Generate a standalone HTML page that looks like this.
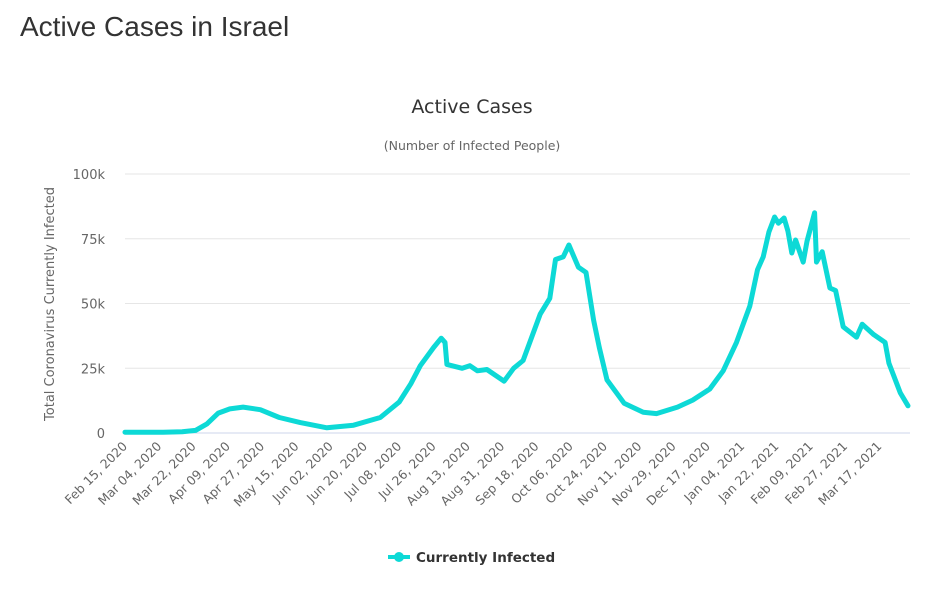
<!DOCTYPE html>
<html><head><meta charset="utf-8">
<style>
body{margin:0;background:#fff;font-family:"Liberation Sans",sans-serif;}
#wrap{position:relative;width:940px;height:612px;overflow:hidden;}
h1{position:absolute;left:20px;top:11px;margin:0;font-weight:normal;font-size:28px;color:#333;}
svg{position:absolute;left:0;top:0;}
</style></head><body>
<div id="wrap">
<h1>Active Cases in Israel</h1>
<svg id="chart" width="940" height="612" font-family="DejaVu Sans, sans-serif">
<text x="472" y="113" text-anchor="middle" font-size="19" fill="#333">Active Cases</text>
<text x="472" y="150" text-anchor="middle" font-size="12.5" fill="#666">(Number of Infected People)</text>
<text transform="translate(54,304) rotate(-90)" text-anchor="middle" font-size="13" fill="#666">Total Coronavirus Currently Infected</text>
<g id="grid"></g><g id="xlabels"></g><g id="series"></g>
<g>
<line x1="388" y1="557" x2="410" y2="557" stroke="#0dd9d6" stroke-width="4"/>
<circle cx="399" cy="557" r="5" fill="#0dd9d6"/>
<text x="416" y="562" font-size="13.5" font-weight="bold" fill="#333">Currently Infected</text>
</g>
</svg>
</div>
<script>
const days=[0,20,30,37,43,49,55,62,71,81,92,106,120,134,144,150,155,162,166,168,169,177,181,185,190,199,204,209,218,223,226,230,233,238,242,246,249,253,262,272,279,290,298,307,314,321,328,332,335,338,341,343,346,348,350,352,356,358,362,363,366,370,373,377,384,387,393,399,401,407,411];
const values=[300,300,500,1000,3500,7700,9300,10000,9000,6000,4000,2000,3000,6000,12000,19000,26000,33000,36600,35000,26500,25000,26000,24000,24500,20000,25000,28000,46000,52000,67000,68000,72600,64000,62000,43600,33000,20500,11500,8000,7500,10000,12700,17000,24000,35000,49000,63000,68000,77600,83400,81000,83000,78000,69500,74500,66000,74000,85000,66000,70000,56000,55000,41000,37000,42000,38000,35000,27000,15500,10500];
const yTicks=[0,25000,50000,75000,100000];
const yTickLabels=["0","25k","50k","75k","100k"];
const xTickDays=[0,18,36,54,72,90,108,126,144,162,180,198,216,234,252,270,288,306,324,342,360,378,396];
const xTickLabels=["Feb 15, 2020","Mar 04, 2020","Mar 22, 2020","Apr 09, 2020","Apr 27, 2020","May 15, 2020","Jun 02, 2020","Jun 20, 2020","Jul 08, 2020","Jul 26, 2020","Aug 13, 2020","Aug 31, 2020","Sep 18, 2020","Oct 06, 2020","Oct 24, 2020","Nov 11, 2020","Nov 29, 2020","Dec 17, 2020","Jan 04, 2021","Jan 22, 2021","Feb 09, 2021","Feb 27, 2021","Mar 17, 2021"];
const NS="http://www.w3.org/2000/svg";
const X0=125,PXD=1.905,Y0=433,YH=259,YMAX=100000;
const xS=d=>X0+d*PXD;
const yS=v=>Y0-v/YMAX*YH;
const grid=document.getElementById('grid');
yTicks.forEach((t,i)=>{
  const l=document.createElementNS(NS,'line');
  
  
  l.setAttribute('x1',X0);l.setAttribute('x2',910);
  l.setAttribute('y1',yS(t));l.setAttribute('y2',yS(t));
  l.setAttribute('stroke',t===0?'#ccd6eb':'#e6e6e6');
  grid.appendChild(l);
  const tx=document.createElementNS(NS,'text');
  
  
  tx.setAttribute('x',105);tx.setAttribute('y',yS(t)+5);
  tx.setAttribute('text-anchor','end');tx.setAttribute('font-size','13');tx.setAttribute('fill','#666');
  tx.textContent=yTickLabels[i];
  grid.appendChild(tx);
});
const xl=document.getElementById('xlabels');
xTickDays.forEach((d,i)=>{
  const tx=document.createElementNS(NS,'text');
  
  
  const x=xS(d)+3,y=447;
  tx.setAttribute('transform','translate('+x+','+y+') rotate(-45)');
  tx.setAttribute('text-anchor','end');tx.setAttribute('font-size','12.5');tx.setAttribute('fill','#666');
  tx.textContent=xTickLabels[i];
  xl.appendChild(tx);
});
const p=document.createElementNS(NS,'path');


p.setAttribute('d',days.map((d,i)=>(i?'L':'M')+xS(d).toFixed(1)+','+yS(values[i]).toFixed(1)).join(''));
p.setAttribute('fill','none');p.setAttribute('stroke','#0dd9d6');p.setAttribute('stroke-width','5');
p.setAttribute('stroke-linejoin','round');p.setAttribute('stroke-linecap','round');
document.getElementById('series').appendChild(p);
</script>
</body></html>
